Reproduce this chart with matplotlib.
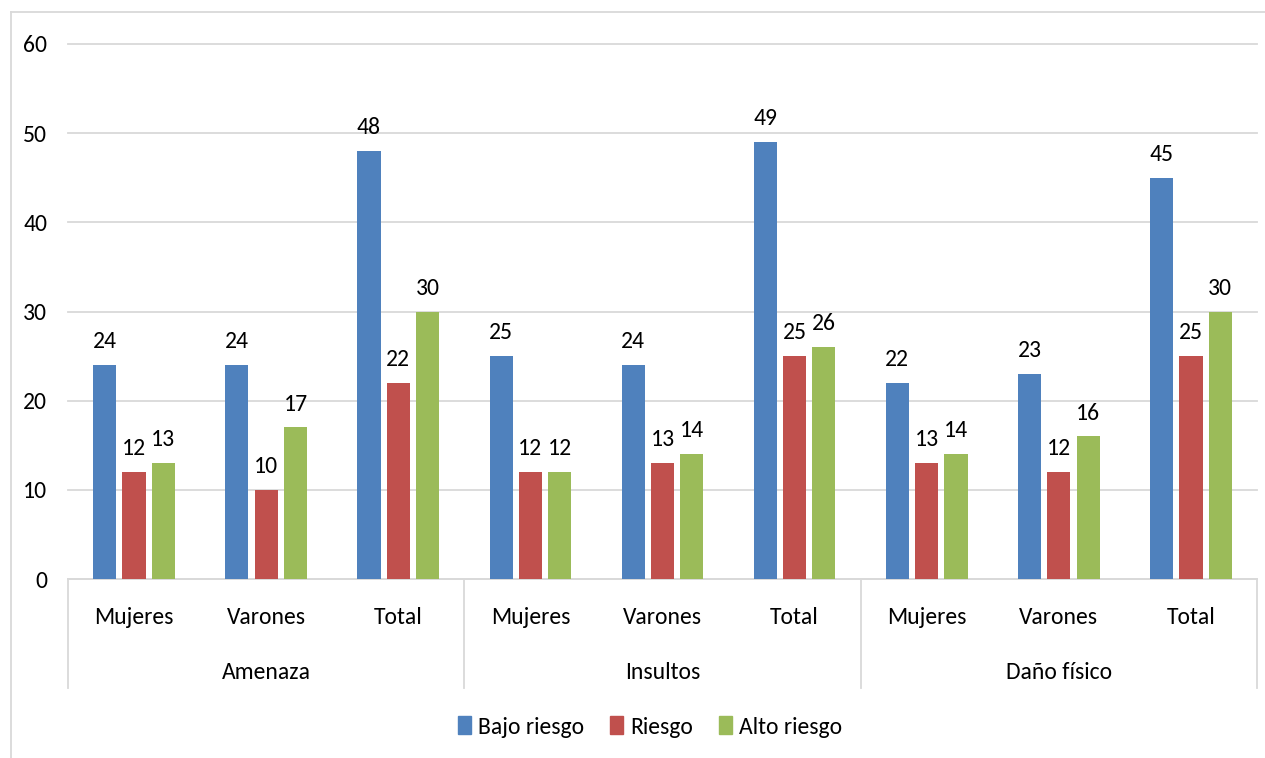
import matplotlib.pyplot as plt
import numpy as np
from matplotlib.patches import Patch
from matplotlib.lines import Line2D

plt.rcParams['font.family'] = ['Carlito', 'DejaVu Sans']

grupos = ['Amenaza', 'Insultos', 'Daño físico']
subgrupos = ['Mujeres', 'Varones', 'Total']
series = ['Bajo riesgo', 'Riesgo', 'Alto riesgo']
bajo = [24, 24, 48, 25, 24, 49, 22, 23, 45]
riesgo = [12, 10, 22, 12, 13, 25, 13, 12, 25]
alto = [13, 17, 30, 12, 14, 26, 14, 16, 30]
colores = ['#4F81BD', '#C0504D', '#9BBB59']

W, H = 1265, 758
fs = 17
fig = plt.figure(figsize=(W / 100, H / 100), dpi=100)
ax = fig.add_axes([68 / W, 1 - 579 / H, (1257 - 68) / W, (579 - 44) / H])

x = np.arange(len(bajo))
ancho = 0.175
desp = 0.222
for k, (vals, col) in enumerate(zip([bajo, riesgo, alto], colores)):
    pos = x + (k - 1) * desp
    ax.bar(pos, vals, width=ancho, color=col, zorder=3)
    for p, v in zip(pos, vals):
        ax.annotate(str(v), (p, v), xytext=(0, 12), textcoords='offset points',
                    ha='center', va='baseline', fontsize=fs)

ax.set_xlim(-0.5, len(bajo) - 0.5)
ax.set_ylim(0, 60)
ax.set_yticks(range(0, 61, 10))
ax.grid(axis='y', color='#D9D9D9', linewidth=1.3, zorder=0)
for gl in ax.yaxis.get_gridlines():
    gl.set_clip_on(False)
for s in ['top', 'right', 'left']:
    ax.spines[s].set_visible(False)
ax.spines['bottom'].set_color('#D9D9D9')
ax.spines['bottom'].set_linewidth(1.3)
ax.tick_params(axis='y', length=0, pad=15, labelsize=fs)
ax.set_xticks([])

# etiquetas de dos niveles
for i in x:
    ax.text(i, -0.072, subgrupos[i % 3], transform=ax.get_xaxis_transform(),
            ha='center', va='center', fontsize=fs)
for g, nombre in enumerate(grupos):
    ax.text(g * 3 + 1, -0.175, nombre, transform=ax.get_xaxis_transform(),
            ha='center', va='center', fontsize=fs)
for b in [-0.5, 2.5, 5.5, 8.5]:
    ax.add_line(Line2D([b, b], [0, -0.204], transform=ax.get_xaxis_transform(),
                       color='#D9D9D9', linewidth=1.3, clip_on=False))

# borde del grafico
fig.add_artist(Line2D([11 / W, 11 / W], [0, 1 - 12 / H], color='#D9D9D9', linewidth=1.3))
fig.add_artist(Line2D([11 / W, 1], [1 - 12 / H, 1 - 12 / H], color='#D9D9D9', linewidth=1.3))

handles = [Patch(color=c, label=s) for c, s in zip(colores, series)]
fig.legend(handles=handles, loc='center', bbox_to_anchor=(650 / W, 1 - 727 / H), ncol=3,
           frameon=False, fontsize=fs, handlelength=0.55, handleheight=0.8,
           handletextpad=0.3, columnspacing=1.1)

fig.savefig('out.png', dpi=100)
